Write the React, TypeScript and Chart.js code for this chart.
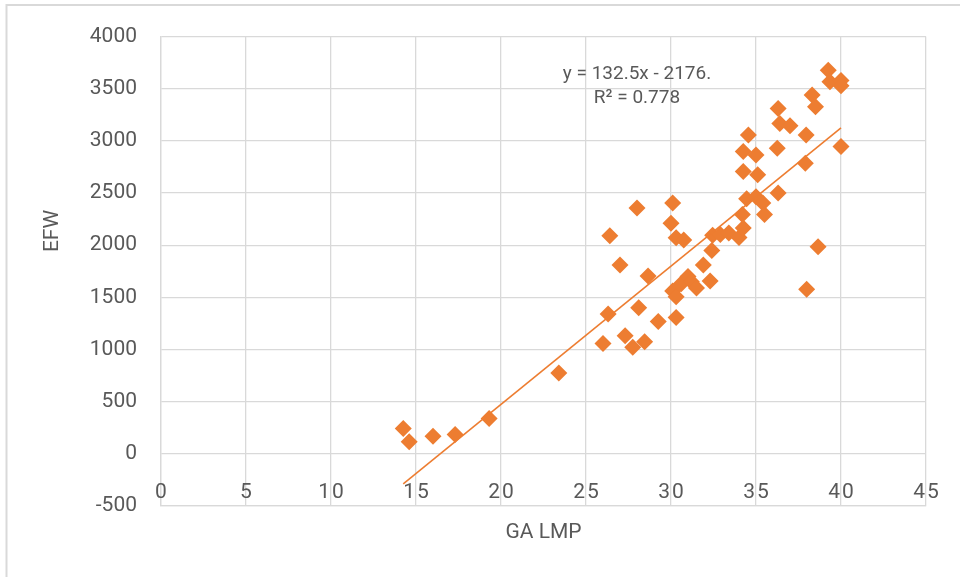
import React, { useEffect, useRef } from "react";
import { Chart, registerables } from "chart.js";

Chart.register(...registerables);

// ---- Data ----
const gaLmp: number[] = [
  14.25, 14.6, 16.0, 17.3, 19.3, 23.4,
  26.0, 26.3, 26.4, 27.0, 28.0, 27.3, 27.75, 28.45, 28.1, 28.65, 29.25,
  30.1, 30.0, 30.3, 30.75, 30.3, 30.1, 30.3, 30.6, 31.0, 31.2, 31.5,
  31.9, 32.3, 32.4, 32.45, 32.9, 33.4, 34.0, 34.25, 34.2, 34.45, 35.0, 35.4, 35.5, 36.3,
  34.25, 35.1, 34.25, 35.0, 34.55, 36.25, 36.3, 36.4, 37.0, 37.95,
  38.3, 38.5, 37.9, 39.25, 39.35, 40.0, 40.0, 40.0, 38.65, 37.98,
];
const efw: number[] = [
  242, 115, 169, 185, 338, 775,
  1059, 1340, 2090, 1810, 2357, 1133, 1021, 1075, 1400, 1705, 1269,
  2405, 2210, 2071, 2050, 1307, 1560, 1505, 1630, 1700, 1650, 1590,
  1810, 1657, 1950, 2095, 2103, 2118, 2075, 2166, 2294, 2445, 2465, 2405, 2294, 2500,
  2707, 2676, 2898, 2866, 3057, 2929, 3311, 3168, 3146, 3057,
  3439, 3327, 2786, 3677, 3566, 3580, 3530, 2946, 1985, 1578,
];

const xTickMin = 0;
const xTickMax = 45;
const xTickStep = 5;
const yTickMin = -500;
const yTickMax = 4000;
const yTickStep = 500;

const trendSlope = 132.5;
const trendIntercept = -2176;
const equationLine1 = "y = 132.5x - 2176.";
const equationLine2 = "R² = 0.778";
// anchor (in data units) of the equation label centre
const equationAnchorX = 28.0;
const equationAnchorY1 = 3642;
const equationAnchorY2 = 3413;

const xTitle = "GA LMP";
const yTitle = "EFW";

const ORANGE = "#ED7D31";
const GRID = "#d9d9d9";
const TEXT = "#595959";
const FONT = "Roboto";

export default function App() {
  const canvasRef = useRef<HTMLCanvasElement | null>(null);

  useEffect(() => {
    document.body.style.margin = "0";
    const canvas = canvasRef.current;
    if (!canvas) return;

    const points = gaLmp.map((x, i) => ({ x, y: efw[i] }));
    const minX = Math.min(...gaLmp);
    const maxX = Math.max(...gaLmp);
    const trend = [
      { x: minX, y: trendSlope * minX + trendIntercept },
      { x: maxX, y: trendSlope * maxX + trendIntercept },
    ];

    const decor = {
      id: "decor",
      beforeDraw(chart: any) {
        const ctx = chart.ctx;
        ctx.save();
        ctx.fillStyle = "#ffffff";
        ctx.fillRect(0, 0, chart.width, chart.height);
        ctx.strokeStyle = GRID;
        ctx.lineWidth = 2;
        ctx.beginPath();
        ctx.moveTo(6.5, chart.height);
        ctx.lineTo(6.5, 5);
        ctx.lineTo(chart.width, 5);
        ctx.stroke();
        ctx.restore();
      },
      afterDraw(chart: any) {
        const ctx = chart.ctx;
        const area = chart.chartArea;
        const xs = chart.scales.x;
        const ys = chart.scales.y;
        ctx.save();
        ctx.fillStyle = TEXT;
        ctx.textAlign = "center";
        ctx.textBaseline = "middle";
        // x tick labels (axis crosses at 0; labels sit inside the plot, above -500)
        ctx.font = `21px ${FONT}`;
        (ctx as any).letterSpacing = "2px";
        for (const t of xs.ticks) {
          ctx.fillText(String(t.value), xs.getPixelForValue(t.value) + 1, 493);
        }
        (ctx as any).letterSpacing = "0px";
        // axis titles
        ctx.fillText(xTitle, (area.left + area.right) / 2, 533);
        ctx.save();
        ctx.translate(53, 231);
        ctx.rotate(-Math.PI / 2);
        ctx.fillText(yTitle, 0, 0);
        ctx.restore();
        // trendline equation
        ctx.font = `19px ${FONT}`;
        const ex = xs.getPixelForValue(equationAnchorX);
        ctx.fillText(equationLine1, ex, ys.getPixelForValue(equationAnchorY1));
        ctx.fillText(equationLine2, ex, ys.getPixelForValue(equationAnchorY2));
        ctx.restore();
      },
    };

    const chart = new Chart(canvas, {
      type: "scatter",
      data: {
        datasets: [
          {
            type: "line",
            label: "Trend",
            data: trend,
            borderColor: ORANGE,
            borderWidth: 1.6,
            pointRadius: 0,
            fill: false,
            order: 0,
          } as any,
          {
            type: "scatter",
            label: "EFW",
            data: points,
            backgroundColor: ORANGE,
            borderColor: ORANGE,
            borderWidth: 0,
            pointStyle: "rectRot",
            pointRadius: 8.5,
            order: 1,
          } as any,
        ],
      },
      options: {
        responsive: false,
        animation: false,
        layout: { padding: { top: 34, right: 34, left: 0, bottom: 0 } },
        plugins: {
          legend: { display: false },
          tooltip: { enabled: false },
        },
        scales: {
          x: {
            type: "linear",
            min: xTickMin,
            max: xTickMax,
            afterFit: (s: any) => {
              s.height = 71;
            },
            ticks: {
              stepSize: xTickStep,
              display: false,
            },
            grid: { color: GRID, lineWidth: 1.3, drawTicks: false },
            border: { display: true, color: GRID, width: 1.3 },
          },
          y: {
            type: "linear",
            min: yTickMin,
            max: yTickMax,
            afterFit: (s: any) => {
              s.width = 161;
            },
            ticks: {
              stepSize: yTickStep,
              color: TEXT,
              font: { family: FONT, size: 21 },
              padding: 24,
              callback: (v: any) => String(v),
            },
            grid: { color: GRID, lineWidth: 1.3, drawTicks: false },
            border: { display: true, color: GRID, width: 1.3 },
          },
        },
      },
      plugins: [decor],
    });

    return () => chart.destroy();
  }, []);

  return <canvas ref={canvasRef} width={960} height={577} />;
}
